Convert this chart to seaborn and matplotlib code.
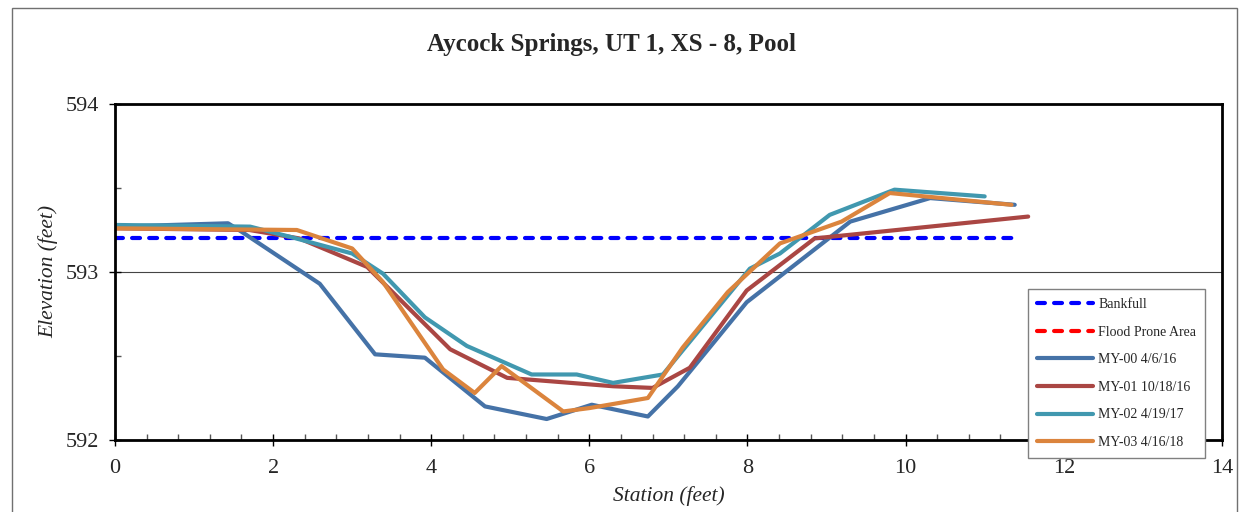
import numpy as np
import pandas as pd
import seaborn as sns
import matplotlib.pyplot as plt
from matplotlib.patches import Rectangle
from matplotlib.ticker import MultipleLocator

# station / elevation pairs
bank_x = [0.0, 11.34]
bank_y = [593.2, 593.2]

flood_x = []
flood_y = []

my00_x = [0.0, 1.43, 1.6, 2.59, 3.29, 3.92, 4.68, 5.46, 6.03, 6.74, 7.12, 7.99, 9.30, 10.31, 11.38]
my00_y = [593.27, 593.29, 593.24, 592.93, 592.51, 592.49, 592.20, 592.125, 592.21, 592.14, 592.32, 592.82, 593.30, 593.44, 593.40]

my01_x = [0.0, 1.7, 2.33, 3.19, 4.24, 4.96, 6.30, 6.80, 7.27, 7.99, 8.85, 11.55]
my01_y = [593.26, 593.25, 593.20, 593.03, 592.54, 592.37, 592.32, 592.31, 592.43, 592.89, 593.20, 593.33]

my02_x = [0.0, 1.71, 2.21, 3.0, 3.39, 3.92, 4.45, 5.27, 5.84, 6.30, 6.93, 8.03, 8.41, 9.04, 9.86, 11.0]
my02_y = [593.28, 593.27, 593.21, 593.11, 592.99, 592.73, 592.56, 592.39, 592.39, 592.34, 592.39, 593.02, 593.11, 593.34, 593.49, 593.45]

my03_x = [0.0, 2.30, 3.0, 3.39, 4.15, 4.55, 4.89, 5.67, 6.0, 6.74, 7.18, 7.75, 8.41, 9.19, 9.80, 11.34]
my03_y = [593.26, 593.25, 593.14, 592.94, 592.42, 592.28, 592.44, 592.17, 592.19, 592.25, 592.55, 592.88, 593.17, 593.30, 593.47, 593.40]

sns.set_style("white")
plt.rcParams['font.family'] = ['Liberation Serif', 'DejaVu Serif']

fig = plt.figure(figsize=(12.43, 5.12), dpi=100)
ax = fig.add_axes([0.0925, 0.1406, 0.8905, 0.6563])

fig.patches.append(Rectangle((12 / 1243, -0.1), (1237 - 12) / 1243, 1.1 - 8 / 512,
                             transform=fig.transFigure, fill=False,
                             edgecolor='#707070', linewidth=1, zorder=0))

ax.plot(bank_x, bank_y, color='#0000FF', lw=3, ls=(0, (1.9, 2.2)),
        dash_capstyle='round', label='Bankfull')
ax.plot(flood_x, flood_y, color='#FF0000', lw=3, ls=(0, (1.9, 2.2)),
        dash_capstyle='round', label='Flood Prone Area')

series = [
    (my00_x, my00_y, '#4572A7', 'MY-00 4/6/16'),
    (my01_x, my01_y, '#AA4643', 'MY-01 10/18/16'),
    (my02_x, my02_y, '#4198AF', 'MY-02 4/19/17'),
    (my03_x, my03_y, '#DB843D', 'MY-03 4/16/18'),
]
for xs, ys, c, lab in series:
    sns.lineplot(x=xs, y=ys, ax=ax, color=c, lw=3, sort=False, estimator=None,
                 label=lab, solid_capstyle='round')

ax.set_xlim(0, 14)
ax.set_ylim(592, 594)
ax.xaxis.set_major_locator(MultipleLocator(2))
ax.xaxis.set_minor_locator(MultipleLocator(0.4))
ax.yaxis.set_major_locator(MultipleLocator(1))
ax.yaxis.set_minor_locator(MultipleLocator(0.5))
ax.tick_params(which='major', direction='inout', length=9, width=1, labelsize=16,
               color='black', bottom=True, left=True)
ax.tick_params(which='minor', direction='in', length=4, width=1, color='#555555',
               bottom=True, left=True)
ax.tick_params(axis='y', which='major', pad=7)
ax.tick_params(axis='x', which='major', pad=9)
ax.yaxis.grid(True, which='major', color='#444444', lw=0.8)
for s in ax.spines.values():
    s.set_color('black')
    s.set_linewidth(2)

ax.set_xlabel('Station (feet)', fontsize=15.5, style='italic', labelpad=6)
ax.set_ylabel('Elevation (feet)', fontsize=15.5, style='italic', labelpad=5)
fig.text(0.492, 0.914, 'Aycock Springs, UT 1, XS - 8, Pool', fontsize=18,
         fontweight='bold', ha='center', va='center')

leg = ax.legend(loc='upper left', bbox_to_anchor=(0.825, 0.449), borderaxespad=0,
                fontsize=10, handlelength=4.0, labelspacing=1.05, handletextpad=0.4,
                borderpad=0.65, fancybox=False, framealpha=1, edgecolor='#808080')
leg.get_frame().set_linewidth(1)
leg.set_zorder(10)

fig.savefig('out.png', dpi=100)
